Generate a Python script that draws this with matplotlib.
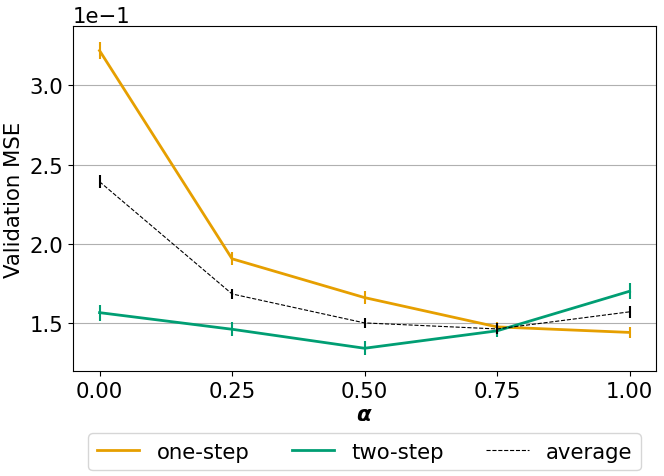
import matplotlib
matplotlib.use("Agg")
import matplotlib.pyplot as plt
import numpy as np

alphas = [0.0, 0.25, 0.5, 0.75, 1.0]
one_step = [0.322, 0.1905, 0.166, 0.1475, 0.144]
one_step_err = [0.0055, 0.004, 0.004, 0.003, 0.0035]
two_step = [0.1565, 0.146, 0.134, 0.145, 0.170]
two_step_err = [0.005, 0.0045, 0.0045, 0.004, 0.005]
average = [0.2392, 0.1683, 0.150, 0.1462, 0.157]
average_err = [0.004, 0.003, 0.003, 0.0035, 0.004]

plt.rcParams['font.size'] = 15.3
fig, ax = plt.subplots(figsize=(6.64, 4.77), dpi=100)

ax.plot(alphas, one_step, color='#E69F00', lw=2, label='one-step')
ax.errorbar(alphas, one_step, yerr=one_step_err, fmt='none', ecolor='#E69F00', elinewidth=1.5)
ax.plot(alphas, two_step, color='#009E73', lw=2, label='two-step')
ax.errorbar(alphas, two_step, yerr=two_step_err, fmt='none', ecolor='#009E73', elinewidth=1.5)
ax.plot(alphas, average, color='black', lw=0.8, ls='--', label='average')
ax.errorbar(alphas, average, yerr=average_err, fmt='none', ecolor='black', elinewidth=1.5)

ax.set_xticks(alphas)
ax.set_xticklabels(['0.00', '0.25', '0.50', '0.75', '1.00'])
ax.ticklabel_format(style='sci', axis='y', scilimits=(0, 0))
ax.yaxis.grid(True, color='#b0b0b0', lw=0.8)
ax.set_axisbelow(True)
ax.set_xlabel(r'$\boldsymbol{\alpha}$', labelpad=2)
ax.set_ylabel('Validation MSE')
ax.legend(loc='upper center', bbox_to_anchor=(0.5, -0.15), ncol=3)

fig.subplots_adjust(left=0.11, right=0.988, top=0.943, bottom=0.22)
fig.savefig('out.png', dpi=100)
